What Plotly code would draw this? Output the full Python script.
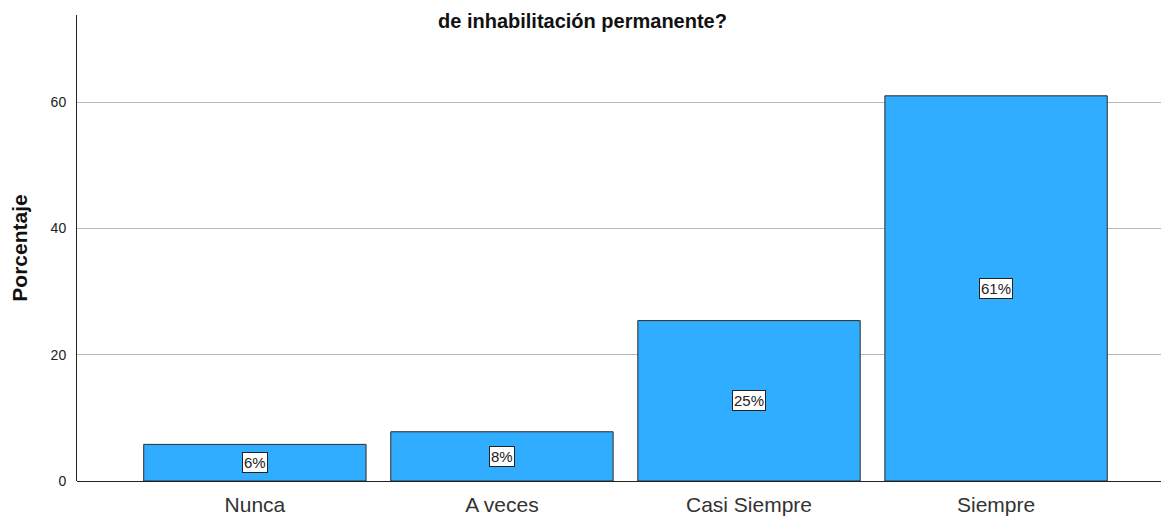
import plotly.graph_objects as go

categories = ["Nunca", "A veces", "Casi Siempre", "Siempre"]
values = [5.8, 7.8, 25.4, 61.0]
labels = ["6%", "8%", "25%", "61%"]
y_ticks = [0, 20, 40, 60]

FONT = "Liberation Sans, Arial"

fig = go.Figure()
fig.add_trace(go.Bar(
    x=categories, y=values, width=0.9,
    marker=dict(color="#30adff", line=dict(color="#2b2b2b", width=1)),
    hoverinfo="skip",
))

for c, v, t in zip(categories, values, labels):
    fig.add_annotation(
        x=c, y=v / 2, text=t, showarrow=False,
        font=dict(family=FONT, size=15, color="#222"),
        bgcolor="white", bordercolor="#222", borderwidth=1, borderpad=1,
    )

fig.add_annotation(
    xref="paper", yref="paper", x=0.463, y=1.0, yshift=7,
    xanchor="center", yanchor="top",
    text="<b>de inhabilitación permanente?</b>", showarrow=False,
    font=dict(family=FONT, size=20, color="#111"),
)

fig.update_layout(
    width=1169, height=516,
    margin=dict(l=69, r=8, t=7, b=43, autoexpand=False),
    paper_bgcolor="white", plot_bgcolor="white",
    showlegend=False,
    xaxis=dict(
        range=[-0.72, 3.70], showgrid=False, showline=False, zeroline=False,
        automargin=False, ticks="", ticklabelstandoff=9,
        tickfont=dict(family=FONT, size=21, color="#333"),
    ),
    yaxis=dict(
        range=[0, 73.8], tickvals=y_ticks, showgrid=True, gridcolor="#b8b8b8", gridwidth=1,
        showline=True, linecolor="#222", linewidth=1, zeroline=True, zerolinecolor="#222", zerolinewidth=1,
        automargin=False, ticks="", ticklabelstandoff=7,
        tickfont=dict(family=FONT, size=14, color="#222"),
        title=dict(text="<b>Porcentaje</b>", standoff=30,
                   font=dict(family=FONT, size=21, color="#111")),
    ),
)

fig.write_html("out.html")
